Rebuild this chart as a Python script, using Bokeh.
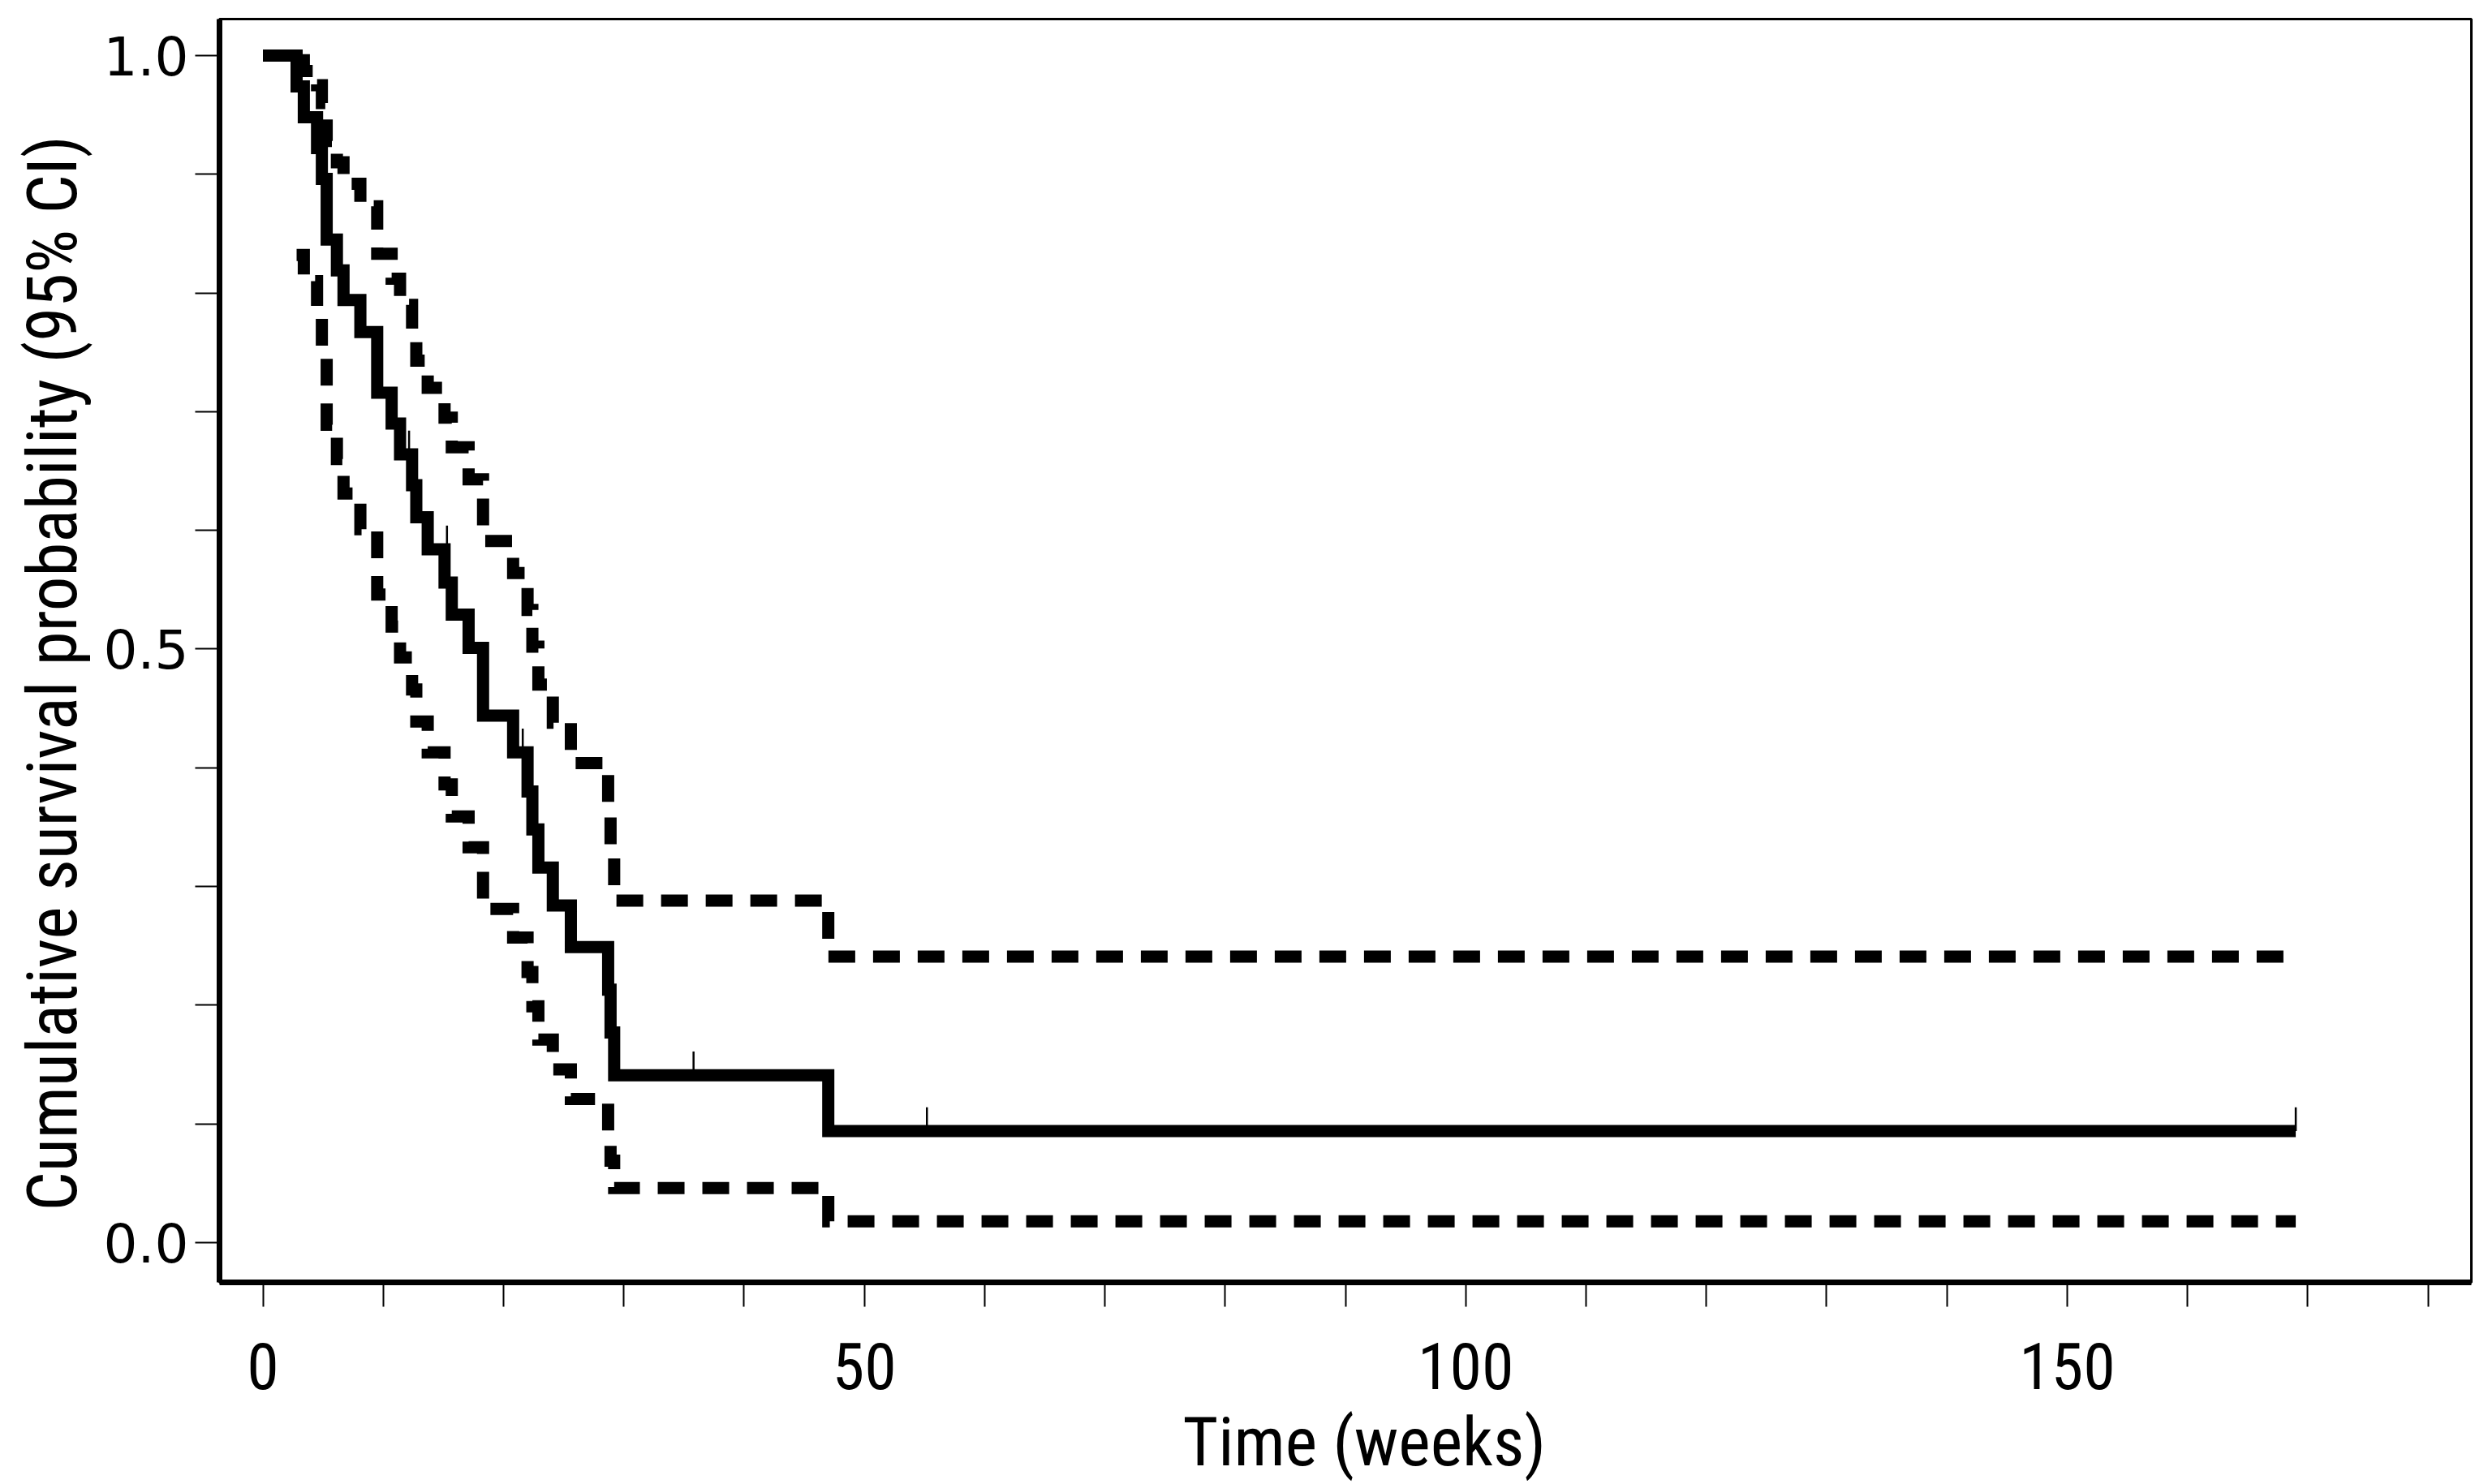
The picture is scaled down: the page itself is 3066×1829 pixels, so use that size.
from bokeh.plotting import figure
from bokeh.models import Range1d, FixedTicker, PrintfTickFormatter, Title
from bokeh.embed import file_html
from bokeh.resources import INLINE

# Kaplan-Meier estimate
time_weeks = [0, 2.8, 3.4, 4.5, 4.9, 5.3, 6.15, 6.7, 8.1, 9.5, 10.7, 11.4, 12.4, 12.75,
              13.7, 15.1, 15.7, 17.1, 18.3, 20.8, 22.0, 22.4, 22.9, 24.1, 25.6, 28.7,
              28.9, 29.2, 47.0, 169.0]
survival = [1.0, 0.974, 0.948, 0.922, 0.896, 0.845, 0.819, 0.794, 0.767, 0.716, 0.690,
            0.664, 0.638, 0.611, 0.584, 0.556, 0.529, 0.501, 0.444, 0.413, 0.380, 0.348,
            0.316, 0.284, 0.249, 0.213, 0.177, 0.141, 0.094, 0.094]

# 95% confidence band (starts at the first event)
ci_time = [2.8, 3.4, 4.5, 4.9, 5.3, 6.15, 6.7, 8.1, 9.5, 10.7, 11.4, 12.4, 12.75,
           13.7, 15.1, 15.7, 17.1, 18.3, 20.8, 22.0, 22.4, 22.9, 24.1, 25.6, 28.7,
           28.9, 29.2, 47.0, 169.0]
upper_ci = [0.996, 0.987, 0.975, 0.960, 0.928, 0.910, 0.892, 0.873, 0.833, 0.812, 0.790,
            0.766, 0.743, 0.720, 0.695, 0.670, 0.643, 0.591, 0.564, 0.533, 0.502, 0.470,
            0.438, 0.404, 0.367, 0.328, 0.288, 0.241, 0.241]
lower_ci = [0.832, 0.810, 0.780, 0.749, 0.689, 0.660, 0.631, 0.601, 0.546, 0.519, 0.493,
            0.466, 0.439, 0.413, 0.386, 0.359, 0.333, 0.281, 0.257, 0.228, 0.199, 0.171,
            0.146, 0.121, 0.094, 0.069, 0.046, 0.018, 0.018]

# censored observations
censor_time = [12.15, 15.3, 21.6, 35.8, 55.2, 169.0]
censor_surv = [0.664, 0.584, 0.413, 0.141, 0.094, 0.094]

x_major_ticks = [0, 50, 100, 150]
x_minor_ticks = [10, 20, 30, 40, 60, 70, 80, 90, 110, 120, 130, 140, 160, 170, 180]
y_major_ticks = [0.0, 0.5, 1.0]
y_minor_ticks = [0.1, 0.2, 0.3, 0.4, 0.6, 0.7, 0.8, 0.9]

x_title = "Time (weeks)"
y_title = "Cumulative survival probability (95% CI)"

p = figure(
    width=3058, height=1821,
    frame_width=2775, frame_height=1557,
    min_border_left=270, min_border_right=13, min_border_top=23, min_border_bottom=241,
    x_range=Range1d(-3.61, 183.6), y_range=Range1d(-0.0335, 1.0307),
    output_backend="svg", toolbar_location=None,
)
p.background_fill_color = "white"
p.border_fill_color = "white"
p.outline_line_color = "black"
p.outline_line_width = 3
p.xgrid.visible = False
p.ygrid.visible = False

cond = "Roboto Condensed"

p.xaxis.ticker = FixedTicker(ticks=x_major_ticks, minor_ticks=x_minor_ticks)
p.yaxis.ticker = FixedTicker(ticks=y_major_ticks, minor_ticks=y_minor_ticks)
p.yaxis.formatter = PrintfTickFormatter(format="%.1f")
for ax in (p.xaxis[0], p.yaxis[0]):
    ax.axis_line_width = 7
    ax.axis_line_color = "black"
    ax.major_tick_in = 0
    ax.major_tick_out = 30
    ax.minor_tick_in = 0
    ax.minor_tick_out = 30
    ax.major_tick_line_width = 2
    ax.minor_tick_line_width = 2
    ax.major_tick_line_color = "black"
    ax.minor_tick_line_color = "black"
    ax.major_label_text_color = "black"

p.xaxis.major_label_text_font = cond
p.xaxis.major_label_text_font_size = "80px"
p.xaxis.major_label_standoff = 44

p.yaxis.major_label_text_font = "DejaVu Sans"
p.yaxis.major_label_text_font_size = "66px"
p.yaxis.major_label_standoff = 8
p.yaxis.major_label_orientation = "horizontal"

# axis titles, placed as side titles so they can be positioned like the original
xt = Title(text=x_title, align="left", offset=1187, standoff=22,
           text_font=cond, text_font_size="84px", text_font_style="normal",
           text_color="black")
p.add_layout(xt, "below")
yt = Title(text=y_title, align="left", offset=88, standoff=16, vertical_align="top",
           text_font=cond, text_font_size="85px", text_font_style="normal",
           text_color="black")
p.add_layout(yt, "left")

common = dict(mode="after", line_color="black", line_width=15, line_join="miter", line_cap="butt")
p.step(x=ci_time, y=upper_ci, line_dash="33 22", **common)
p.step(x=ci_time, y=lower_ci, line_dash="33 22", **common)
p.step(x=time_weeks, y=survival, **common)

p.segment(x0=censor_time, y0=censor_surv, x1=censor_time,
          y1=[s + 0.02 for s in censor_surv], line_color="black", line_width=2.5)

open("out.html", "w").write(file_html(p, INLINE))
